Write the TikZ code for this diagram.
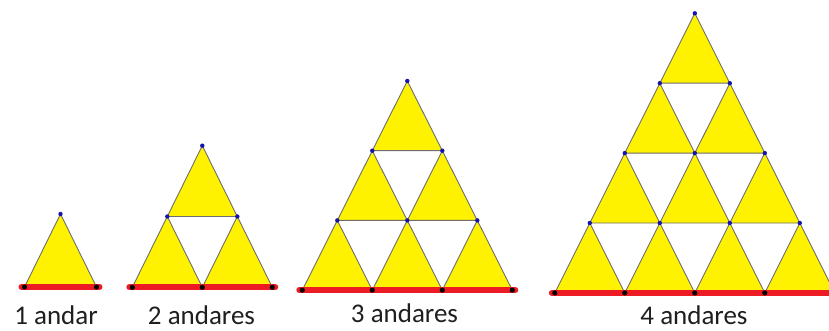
\documentclass[tikz,border=0pt]{standalone}
\usepackage{fontspec}
\setmainfont{Carlito}
\definecolor{triyellow}{RGB}{255,242,0}
\definecolor{edgegray}{RGB}{110,110,110}
\definecolor{basered}{RGB}{237,28,36}
\definecolor{dotblue}{RGB}{20,20,170}
\tikzset{
  tri/.style={fill=triyellow,draw=edgegray,line width=0.9pt,line join=round},
  baseline red/.style={draw=basered,line width=6pt,line cap=round},
  topdot/.style={fill=dotblue},
  botdot/.style={fill=black},
  lbl/.style={font=\fontsize{27}{31}\selectfont,text=black!88,anchor=base,inner sep=0pt}
}
\newcommand\andares[5]{% apex x, apex y, half width, row height, rows
  \foreach \r in {1,...,#5}{%
    \pgfmathtruncatemacro\rr{\r-1}%
    \foreach \k in {0,...,\rr}{%
      \pgfmathsetmacro\px{#1+(2*\k-\rr)*#3}%
      \pgfmathsetmacro\py{#2+\rr*#4}%
      \filldraw[tri] (\px,\py) -- ++(-#3,#4) -- ++(2*#3,0) -- cycle;
    }%
  }%
  \draw[baseline red] ({#1-#5*#3-3},{#2+#5*#4}) -- ({#1+#5*#3+3},{#2+#5*#4});
  \foreach \r in {1,...,#5}{%
    \pgfmathtruncatemacro\rr{\r-1}%
    \foreach \k in {0,...,\rr}{%
      \pgfmathsetmacro\px{#1+(2*\k-\rr)*#3}%
      \pgfmathsetmacro\py{#2+\rr*#4}%
      \fill[topdot] (\px,\py) circle (2.2pt);
    }%
  }%
  \foreach \k in {0,...,#5}{%
    \pgfmathsetmacro\px{#1+(2*\k-#5)*#3}%
    \fill[botdot] (\px,{#2+#5*#4}) circle (2.6pt);
  }%
}
\begin{document}
\begin{tikzpicture}[x=1pt,y=-1pt]
  \useasboundingbox (0,0) rectangle (829,331);
  \clip (0,0) rectangle (829,331);
  \fill[white] (0,0) rectangle (829,331);
  \andares{60.5}{214}{36}{73}{1}
  \andares{202.3}{145.7}{35}{70.8}{2}
  \andares{407.3}{81}{35}{69.7}{3}
  \andares{694.8}{13.3}{35}{69.9}{4}
  \node[lbl] (l1) at (56,324.5) {1 andar};
  \node[lbl] (l2) at (201.5,324.5) {2 andares};
  \node[lbl] (l3) at (404.5,322.5) {3 andares};
  \node[lbl] (l4) at (694,324.5) {4 andares};
\end{tikzpicture}
\end{document}
